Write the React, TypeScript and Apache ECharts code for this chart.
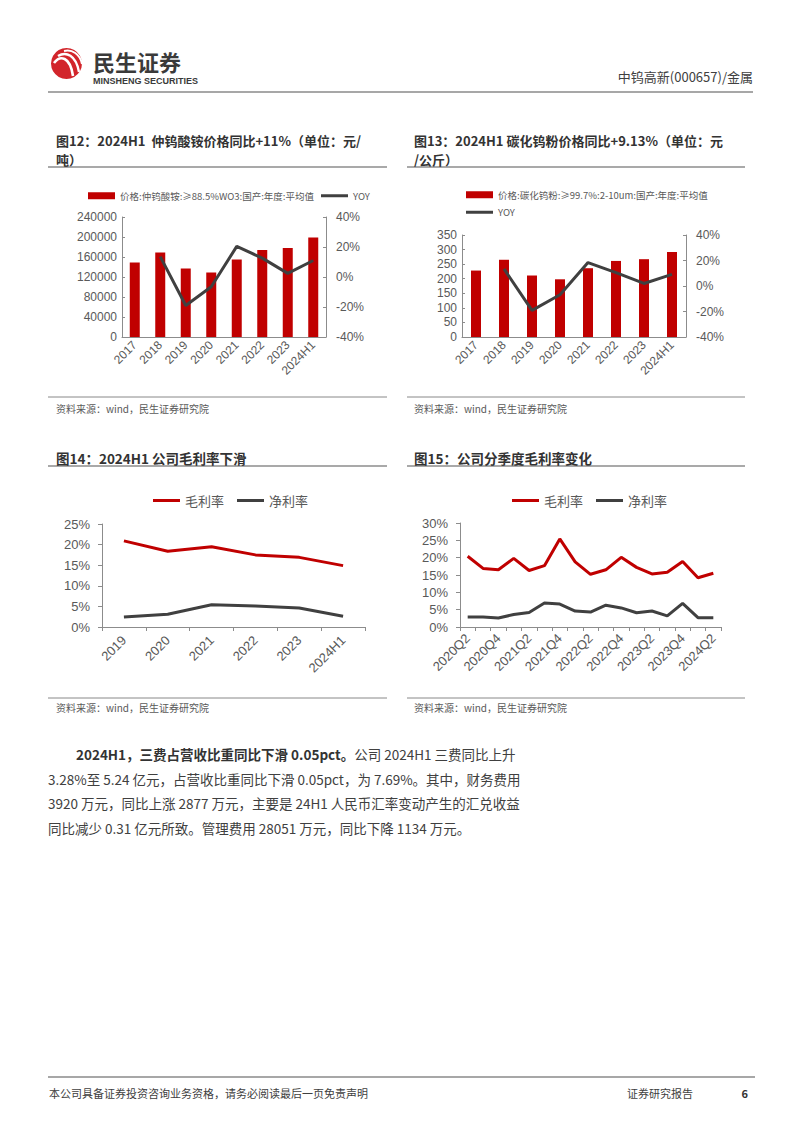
import React, { useEffect, useRef } from "react";
import * as echarts from "echarts";

// ---------- data ----------
const years = ["2017", "2018", "2019", "2020", "2021", "2022", "2023", "2024H1"];
const aptName = "价格:仲钨酸铵:≥88.5%WO3:国产:年度:平均值";
const aptPrice = [149000, 169000, 137000, 129000, 155000, 174000, 178000, 199000];
const aptYoy = [null, 13.6, -19, -6.5, 20.4, 12.6, 2.4, 11];
const wcName = "价格:碳化钨粉:≥99.7%:2-10um:国产:年度:平均值";
const wcPrice = [228, 265, 211, 198, 236, 261, 267, 292];
const wcYoy = [null, 13.4, -19.1, -6.9, 18.4, 10.5, 2.0, 9.13];

const annualCats = ["2019", "2020", "2021", "2022", "2023", "2024H1"];
const annualGross = [20.9, 18.4, 19.5, 17.5, 16.9, 14.9];
const annualNet = [2.4, 3.1, 5.4, 5.1, 4.6, 2.6];

const quarters = [
  "2020Q2", "2020Q3", "2020Q4", "2021Q1", "2021Q2", "2021Q3", "2021Q4", "2022Q1", "2022Q2",
  "2022Q3", "2022Q4", "2023Q1", "2023Q2", "2023Q3", "2023Q4", "2024Q1", "2024Q2",
];
const qGross = [20.4, 16.9, 16.5, 19.8, 16.3, 17.7, 25.4, 18.8, 15.2, 16.5, 20.1, 17.2, 15.3, 15.8, 18.9, 14.2, 15.5];
const qNet = [2.9, 2.9, 2.6, 3.6, 4.2, 6.9, 6.6, 4.6, 4.3, 6.3, 5.5, 4.1, 4.6, 3.2, 6.8, 2.7, 2.7];

const paragraph = [
  "公司 2024H1 三费同比上升",
  "3.28%至 5.24 亿元，占营收比重同比下滑 0.05pct，为 7.69%。其中，财务费用",
  "3920 万元，同比上涨 2877 万元，主要是 24H1 人民币汇率变动产生的汇兑收益",
  "同比减少 0.31 亿元所致。管理费用 28051 万元，同比下降 1134 万元。",
];
const paragraphLead = "2024H1，三费占营收比重同比下滑 0.05pct。";

// ---------- styles ----------
const RED = "#C00000";
const GRAY = "#404040";
const TXT = "#595959";
const AXIS = "#8c8c8c";
const FONT = "'Noto Sans CJK SC', 'Noto Sans', sans-serif";
const NUMFONT = "'Liberation Sans', Arial, sans-serif";
const LINE_ICON = "path://M0,0H27V3H0Z";
const BAR_ICON = "path://M0,0H27V7H0Z";

function T(x: number, y: number, text: string, o: any = {}) {
  const style: any = {
    text,
    fill: o.fill || TXT,
    fontSize: o.size || 12,
    fontWeight: o.weight || "normal",
    fontFamily: o.family || FONT,
    textAlign: o.align || "left",
    textVerticalAlign: "middle",
  };
  if (o.rich) style.rich = o.rich;
  if (o.lh) style.lineHeight = o.lh;
  return { type: "text", x, y, silent: true, style };
}
function L(x1: number, y1: number, x2: number, y2: number, stroke: string, w: number) {
  return { type: "line", silent: true, shape: { x1, y1, x2, y2 }, style: { stroke, lineWidth: w } };
}

export default function App() {
  const ref = useRef<HTMLDivElement>(null);
  useEffect(() => {
    if (!ref.current) return;
    const chart = echarts.init(ref.current, null, { renderer: "svg" });

    const yLabel = { color: TXT, fontSize: 12, fontFamily: NUMFONT };
    const axisLine = { show: true, lineStyle: { color: AXIS, width: 1 } };
    const plain = (v: number) => String(v);
    const title = { size: 13.5, weight: "bold", fill: "#333" };
    const title2 = { size: 13, weight: "bold", fill: "#333", lh: 19 };

    const graphic: any[] = [
      // header
      { type: "circle", silent: true, shape: { cx: 66.5, cy: 63.5, r: 15.5 }, style: { fill: "#D2252B" } },
      { type: "bezierCurve", silent: true, shape: { x1: 54, y1: 63, cpx1: 60, cpy1: 55, cpx2: 70, cpy2: 56, x2: 73, y2: 76 }, style: { stroke: "#fff", lineWidth: 2.6, fill: "none" } },
      { type: "bezierCurve", silent: true, shape: { x1: 58, y1: 56, cpx1: 66, cpy1: 51, cpx2: 76, cpy2: 55, x2: 79, y2: 72 }, style: { stroke: "#fff", lineWidth: 2.4, fill: "none" } },
      { type: "bezierCurve", silent: true, shape: { x1: 64, y1: 51, cpx1: 72, cpy1: 49, cpx2: 80, cpy2: 54, x2: 82, y2: 64 }, style: { stroke: "#fff", lineWidth: 2, fill: "none" } },
      T(93, 61, "民生证券", { size: 22, weight: "bold", fill: "#3a3a3a", lh: 24 }),
      T(93, 81, "MINSHENG SECURITIES", { size: 9, weight: "bold", fill: "#3a3a3a", family: NUMFONT, lh: 10 }),
      T(753, 76, "中钨高新(000657)/金属", { size: 13, align: "right", fill: GRAY }),
      L(48, 92, 753, 92, "#8a8a8a", 1.5),

      // chart 12 title (two lines in one text)
      T(56, 150, "图12：2024H1  仲钨酸铵价格同比+11%（单位：元/\n吨）", title2),
      L(48, 167, 387, 167, "#555", 1.2),
      // chart 13 title
      T(414, 150, "图13：2024H1 碳化钨粉价格同比+9.13%（单位：元\n/公斤）", title2),
      L(407, 167, 745, 167, "#555", 1.2),
      // sources 12/13
      L(48, 397, 387, 397, "#888", 1),
      L(407, 397, 745, 397, "#888", 1),
      T(56, 408, "资料来源：wind，民生证券研究院", { size: 10 }),
      T(414, 408, "资料来源：wind，民生证券研究院", { size: 10 }),

      // chart 14 / 15 titles
      T(56, 458, "图14：2024H1 公司毛利率下滑", title),
      L(48, 466, 387, 466, "#555", 1.2),
      T(414, 458, "图15：公司分季度毛利率变化", title),
      L(407, 466, 745, 466, "#555", 1.2),
      L(48, 698, 387, 698, "#888", 1),
      L(407, 698, 745, 698, "#888", 1),
      T(56, 707, "资料来源：wind，民生证券研究院", { size: 10 }),
      T(414, 707, "资料来源：wind，民生证券研究院", { size: 10 }),

      // paragraph
      T(76, 754, "{b|" + paragraphLead + "}{n|" + paragraph[0] + "}", {
        size: 13.5,
        rich: {
          b: { fontSize: 13.5, fontWeight: "bold", fill: "#333", fontFamily: FONT },
          n: { fontSize: 13.5, fill: GRAY, fontFamily: FONT },
        },
      }),
      T(48, 779, paragraph[1], { size: 13.5, fill: GRAY }),
      T(48, 803, paragraph[2], { size: 13.5, fill: GRAY }),
      T(48, 828, paragraph[3], { size: 13.5, fill: GRAY }),

      // footer
      L(48, 1077, 755, 1077, "#8a8a8a", 1.5),
      T(49, 1093, "本公司具备证券投资咨询业务资格，请务必阅读最后一页免责声明", { size: 11, fill: GRAY }),
      T(627, 1093, "证券研究报告", { size: 11, fill: GRAY }),
      T(748, 1093, "6", { size: 11, weight: "bold", fill: "#333", align: "right" }),
    ];

    const option: any = {
      animation: false,
      textStyle: { fontFamily: FONT },
      graphic,
      legend: [
        {
          left: 83, top: 186, itemWidth: 27, itemHeight: 7, itemGap: 7,
          textStyle: { fontSize: 9.5, color: TXT, fontFamily: FONT },
          data: [{ name: aptName, icon: BAR_ICON }, { name: "YOY", icon: LINE_ICON }],
          selectedMode: false,
        },
        {
          left: 461, top: 185, orient: "vertical", itemWidth: 27, itemHeight: 7, itemGap: 8,
          textStyle: { fontSize: 9.5, color: TXT, fontFamily: FONT },
          data: [{ name: wcName, icon: BAR_ICON }, { name: "YOY", icon: LINE_ICON }],
          selectedMode: false,
        },
        {
          left: 148, top: 489, itemWidth: 27, itemHeight: 14, itemGap: 13,
          textStyle: { fontSize: 13, color: TXT, fontFamily: FONT },
          data: [{ name: "毛利率", icon: LINE_ICON }, { name: "净利率", icon: LINE_ICON }],
          selectedMode: false,
        },
        {
          left: 507, top: 489, itemWidth: 27, itemHeight: 14, itemGap: 13,
          textStyle: { fontSize: 13, color: TXT, fontFamily: FONT },
          data: [{ name: "毛利率", icon: LINE_ICON }, { name: "净利率", icon: LINE_ICON }],
          selectedMode: false,
        },
      ],
      grid: [
        { left: 122, top: 217, width: 204, height: 120 },
        { left: 462, top: 235, width: 224, height: 102 },
        { left: 102, top: 524, width: 263, height: 103 },
        { left: 460, top: 523, width: 261, height: 104 },
      ],
      xAxis: [
        {
          gridIndex: 0, type: "category", data: years, axisLine, axisTick: { show: false },
          axisLabel: { ...yLabel, rotate: 45, interval: 0, margin: 6 },
        },
        {
          gridIndex: 1, type: "category", data: years, axisLine, axisTick: { show: false },
          axisLabel: { ...yLabel, rotate: 45, interval: 0, margin: 6 },
        },
        {
          gridIndex: 2, type: "category", data: annualCats, axisLine,
          axisTick: { show: true, length: 4, lineStyle: { color: AXIS } },
          axisLabel: { ...yLabel, fontSize: 13, rotate: 45, interval: 0, margin: 11 },
        },
        {
          gridIndex: 3, type: "category", data: quarters, axisLine,
          axisTick: { show: true, interval: 0, length: 4, lineStyle: { color: AXIS } },
          axisLabel: { ...yLabel, fontSize: 13, rotate: 45, interval: 1, margin: 9 },
        },
      ],
      yAxis: [
        {
          gridIndex: 0, type: "value", min: 0, max: 240000, interval: 40000, axisLine,
          axisTick: { show: true, inside: true, length: 3, lineStyle: { color: AXIS } },
          splitLine: { show: false }, axisLabel: { ...yLabel, margin: 5, formatter: plain },
        },
        {
          gridIndex: 0, type: "value", position: "right", min: -40, max: 40, interval: 20, axisLine,
          axisTick: { show: true, inside: true, length: 3, lineStyle: { color: AXIS } },
          splitLine: { show: false }, axisLabel: { ...yLabel, margin: 10, formatter: "{value}%" },
        },
        {
          gridIndex: 1, type: "value", min: 0, max: 350, interval: 50, axisLine,
          axisTick: { show: true, inside: true, length: 3, lineStyle: { color: AXIS } },
          splitLine: { show: false }, axisLabel: { ...yLabel, margin: 5, formatter: plain },
        },
        {
          gridIndex: 1, type: "value", position: "right", min: -40, max: 40, interval: 20, axisLine,
          axisTick: { show: true, inside: true, length: 3, lineStyle: { color: AXIS } },
          splitLine: { show: false }, axisLabel: { ...yLabel, margin: 10, formatter: "{value}%" },
        },
        {
          gridIndex: 2, type: "value", min: 0, max: 25, interval: 5, axisLine,
          axisTick: { show: true, length: 4, lineStyle: { color: AXIS } },
          splitLine: { show: false }, axisLabel: { ...yLabel, fontSize: 13, margin: 12, formatter: "{value}%" },
        },
        {
          gridIndex: 3, type: "value", min: 0, max: 30, interval: 5, axisLine,
          axisTick: { show: true, length: 4, lineStyle: { color: AXIS } },
          splitLine: { show: false }, axisLabel: { ...yLabel, fontSize: 13, margin: 12, formatter: "{value}%" },
        },
      ],
      series: [
        { name: aptName, type: "bar", xAxisIndex: 0, yAxisIndex: 0, data: aptPrice, barWidth: 10, itemStyle: { color: RED } },
        { name: "YOY", type: "line", xAxisIndex: 0, yAxisIndex: 1, data: aptYoy, symbol: "none", showSymbol: false, lineStyle: { color: GRAY, width: 3 }, itemStyle: { color: GRAY } },
        { name: wcName, type: "bar", xAxisIndex: 1, yAxisIndex: 2, data: wcPrice, barWidth: 10, itemStyle: { color: RED } },
        { name: "YOY", type: "line", xAxisIndex: 1, yAxisIndex: 3, data: wcYoy, symbol: "none", showSymbol: false, lineStyle: { color: GRAY, width: 3 }, itemStyle: { color: GRAY } },
        { name: "毛利率", type: "line", xAxisIndex: 2, yAxisIndex: 4, data: annualGross, symbol: "none", showSymbol: false, lineStyle: { color: RED, width: 3 }, itemStyle: { color: RED } },
        { name: "净利率", type: "line", xAxisIndex: 2, yAxisIndex: 4, data: annualNet, symbol: "none", showSymbol: false, lineStyle: { color: GRAY, width: 3 }, itemStyle: { color: GRAY } },
        { name: "毛利率", type: "line", xAxisIndex: 3, yAxisIndex: 5, data: qGross, symbol: "none", showSymbol: false, lineStyle: { color: RED, width: 3 }, itemStyle: { color: RED } },
        { name: "净利率", type: "line", xAxisIndex: 3, yAxisIndex: 5, data: qNet, symbol: "none", showSymbol: false, lineStyle: { color: GRAY, width: 3 }, itemStyle: { color: GRAY } },
      ],
    };
    chart.setOption(option);
    return () => chart.dispose();
  }, []);

  return (
    <div
      ref={ref}
      style={{ position: "absolute", left: 0, top: 0, width: 802, height: 1133, background: "#fff" }}
    />
  );
}
